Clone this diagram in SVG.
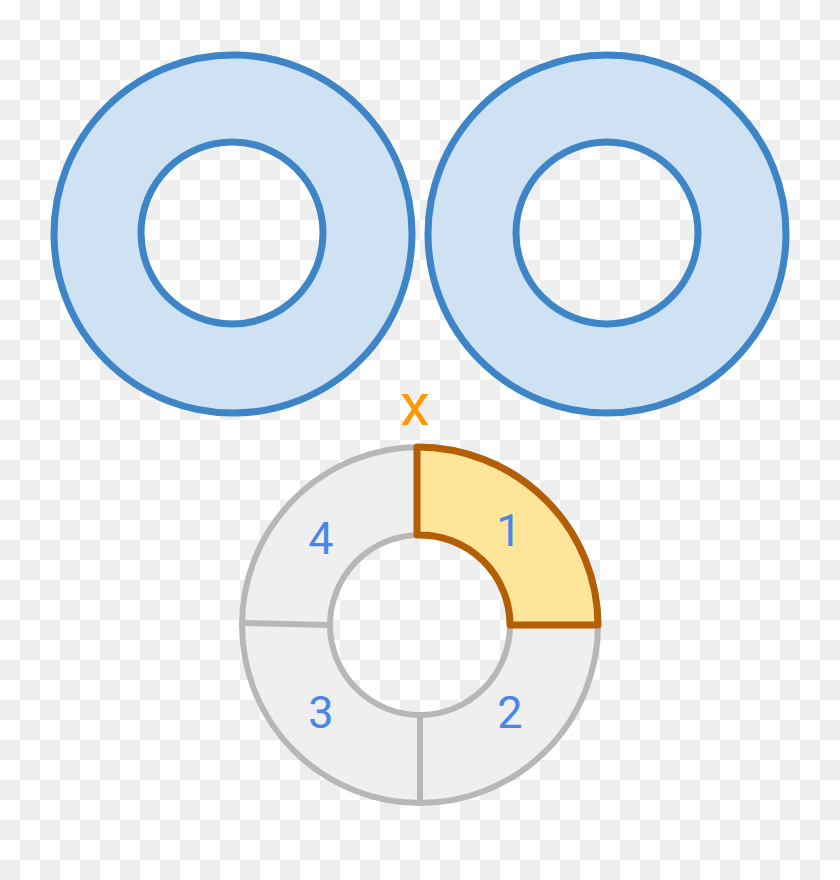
<svg xmlns="http://www.w3.org/2000/svg" width="840" height="880" viewBox="0 0 840 880">
  <defs>
    <pattern id="checker" width="40" height="40" patternUnits="userSpaceOnUse">
      <rect width="40" height="40" fill="#ffffff"/>
      <rect x="20" y="0" width="20" height="20" fill="#eeeeee"/>
      <rect x="0" y="20" width="20" height="20" fill="#eeeeee"/>
    </pattern>
    <style>
      .ring { fill: #cfe2f3; stroke: #3d85c6; stroke-width: 7; fill-rule: evenodd; }
      .seg { fill: #efefef; stroke: #b7b7b7; stroke-width: 6; fill-rule: evenodd; }
      .div { stroke: #b7b7b7; stroke-width: 6; }
      .hl { fill: #ffe599; stroke: #b45f06; stroke-width: 7; stroke-linejoin: round; }
      .num { font-family: Roboto, "Liberation Sans", sans-serif; font-size: 45px; fill: #4a86e8; text-anchor: middle; }
      .x { font-family: Roboto, "Liberation Sans", sans-serif; font-size: 60px; fill: #ff9900; text-anchor: middle; }
    </style>
  </defs>
  <rect width="840" height="880" fill="url(#checker)"/>

  <g id="ring-left">
    <path class="ring" d="M 412 234 A 179 179 0 1 0 54 234 A 179 179 0 1 0 412 234 Z M 323 233 A 91 91 0 1 1 141 233 A 91 91 0 1 1 323 233 Z"/>
  </g>
  <g id="ring-right">
    <path class="ring" d="M 786 234 A 179 179 0 1 0 428 234 A 179 179 0 1 0 786 234 Z M 698 233 A 91 91 0 1 1 516 233 A 91 91 0 1 1 698 233 Z"/>
  </g>

  <g id="segmented-ring">
    <path class="seg" d="M 598 625 A 178 178 0 1 0 242 625 A 178 178 0 1 0 598 625 Z M 510 625 A 90 90 0 1 1 330 625 A 90 90 0 1 1 510 625 Z"/>
    <line class="div" x1="242" y1="623" x2="330" y2="625"/>
    <line class="div" x1="420" y1="715" x2="420" y2="803"/>
  </g>
  <g id="segment-1">
    <path class="hl" d="M 417 447 A 181 178 0 0 1 598 625 L 510 625 A 90 90 0 0 0 417 535 Z"/>
  </g>

  <g id="labels">
    <text class="x" x="415" y="425">x</text>
    <text class="num" x="509" y="546">1</text>
    <text class="num" x="510" y="728">2</text>
    <text class="num" x="321" y="728">3</text>
    <text class="num" x="321" y="554">4</text>
  </g>
</svg>
